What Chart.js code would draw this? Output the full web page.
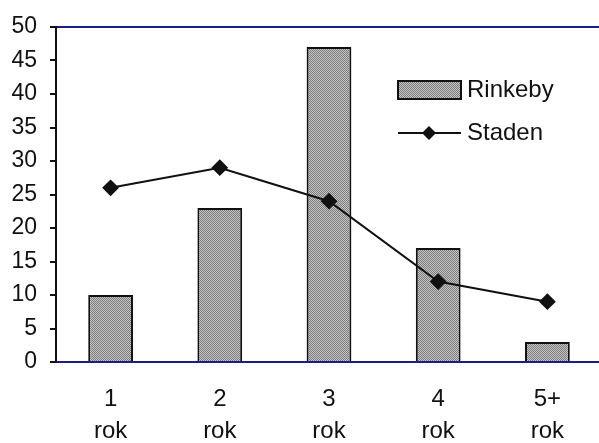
<!DOCTYPE html>
<html lang="sv">
<head>
<meta charset="UTF-8">
<title>Rinkeby / Staden</title>
<script src="https://cdn.jsdelivr.net/npm/chart.js"></script>
<style>
  html, body { margin: 0; padding: 0; background: #fff; overflow: hidden; }
  #wrap { position: absolute; left: 0; top: 0; width: 611px; height: 443px; }
</style>
</head>
<body>
<div id="wrap"><canvas id="myChart"></canvas></div>
<script>
// data
const categories = [['1', 'rok'], ['2', 'rok'], ['3', 'rok'], ['4', 'rok'], ['5+', 'rok']];
const rinkeby = [10, 23, 47, 17, 3];
const staden = [26, 29, 24, 12, 9];
const seriesNames = ['Rinkeby', 'Staden'];

const navy = '#1c1c8a';
const fontFamily = '"Liberation Sans", Arial, sans-serif';

// stippled grey fill for the bars
function stipple() {
    const c = document.createElement('canvas');
    c.width = 2; c.height = 2;
    const x = c.getContext('2d');
    x.fillStyle = '#c4c4c4'; x.fillRect(0, 0, 2, 2);
    x.fillStyle = '#7c7c7c'; x.fillRect(0, 0, 1, 1); x.fillRect(1, 1, 1, 1);
    return x.createPattern(c, 'repeat');
}
const barFill = stipple();

// legend drawn inside the plot area
const insideLegend = {
    id: 'insideLegend',
    afterDraw: (chart) => {
        const ctx = chart.ctx;
        const ds = chart.data.datasets;
        ctx.save();
        ctx.font = '24px ' + fontFamily;
        ctx.textBaseline = 'middle';
        // bar entry
        ctx.fillStyle = barFill;
        ctx.fillRect(398, 81, 63, 18);
        ctx.strokeStyle = '#111';
        ctx.lineWidth = 2;
        ctx.strokeRect(398, 81, 63, 18);
        ctx.fillStyle = '#111';
        ctx.fillText(ds[1].label, 467, 90);
        // line entry
        ctx.beginPath();
        ctx.moveTo(398, 133);
        ctx.lineTo(461, 133);
        ctx.stroke();
        ctx.beginPath();
        ctx.moveTo(429, 126); ctx.lineTo(436, 133); ctx.lineTo(429, 140); ctx.lineTo(422, 133);
        ctx.closePath();
        ctx.fill();
        ctx.fillText(ds[0].label, 467, 133);
        ctx.restore();
    }
};

const config = {
    type: 'bar',
    data: {
        labels: categories,
        datasets: [{
            type: 'line',
            label: seriesNames[1],
            data: staden,
            borderColor: '#111',
            backgroundColor: '#111',
            borderWidth: 2,
            pointStyle: 'rectRot',
            pointRadius: 7,
            pointHoverRadius: 7,
            order: 0
        }, {
            type: 'bar',
            label: seriesNames[0],
            data: rinkeby,
            backgroundColor: barFill,
            borderColor: '#111',
            borderWidth: 2,
            barPercentage: 0.41,
            categoryPercentage: 1.0,
            order: 1
        }]
    },
    options: {
        responsive: true,
        maintainAspectRatio: false,
        animation: false,
        layout: { padding: { top: 27, left: 0, right: 0, bottom: 0 } },
        plugins: {
            legend: { display: false },
            tooltip: { enabled: false }
        },
        scales: {
            x: {
                afterFit: (s) => { s.height = 81; },
                grid: { display: false },
                border: { display: true, color: navy, width: 2 },
                ticks: {
                    color: '#111',
                    padding: 14,
                    maxRotation: 0,
                    font: { family: fontFamily, size: 24, lineHeight: 1.32 }
                }
            },
            y: {
                min: 0,
                max: 50,
                afterFit: (s) => { s.width = 56; },
                grid: {
                    drawOnChartArea: true,
                    tickLength: 6,
                    tickColor: '#111',
                    lineWidth: 2,
                    color: (ctx) => ctx.tick && ctx.tick.value === 50 ? navy : 'rgba(0,0,0,0)'
                },
                border: { display: true, color: '#111', width: 2 },
                ticks: {
                    stepSize: 5,
                    color: '#111',
                    padding: 13,
                    font: { family: fontFamily, size: 23 }
                }
            }
        }
    },
    plugins: [insideLegend]
};

var chart = new Chart(document.getElementById('myChart'), config);
</script>
</body>
</html>
